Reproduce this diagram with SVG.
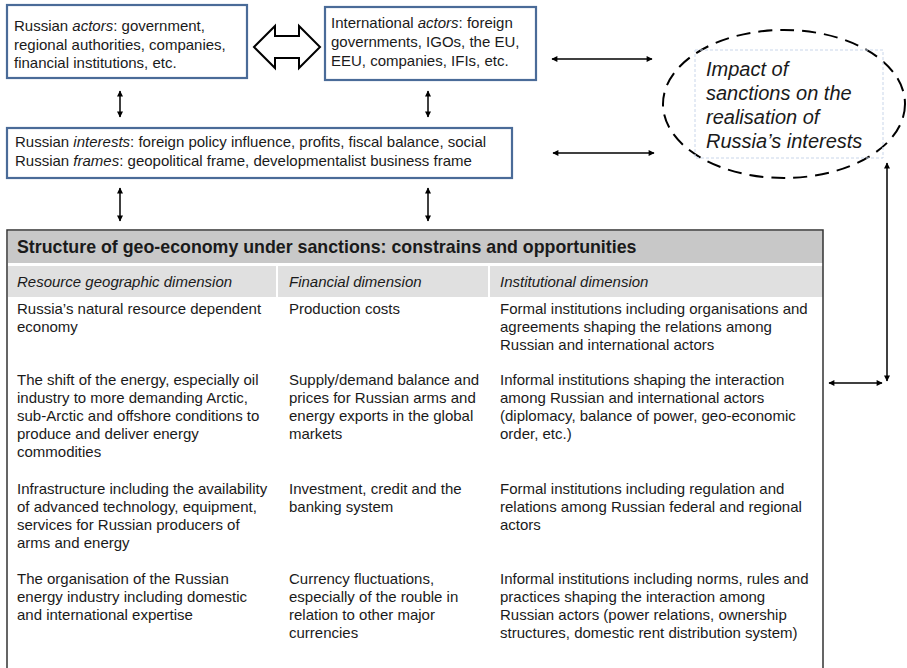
<svg xmlns="http://www.w3.org/2000/svg" width="907" height="668" viewBox="0 0 907 668">
<style>
  text { font-family: "Liberation Sans", Arial, sans-serif; fill: #1a1a1a; }
  .box { fill: #fff; stroke: #4a6b98; stroke-width: 2.2; }
  .t15 { font-size: 15px; }
  .conn { stroke: #000; stroke-width: 1.5; fill: none; marker-start: url(#ah); marker-end: url(#ah); }
</style>
<defs>
  <marker id="ah" viewBox="0 0 10 10" refX="9" refY="5" markerWidth="7" markerHeight="6" markerUnits="userSpaceOnUse" orient="auto-start-reverse">
    <path d="M0,0 L10,5 L0,10 Z" fill="#000"/>
  </marker>
</defs>
<rect width="907" height="668" fill="#fff"/>

<g id="russian-actors">
  <rect class="box" x="7" y="5" width="240" height="73"/>
  <text class="t15" x="14" y="31">Russian <tspan font-style="italic">actors</tspan>: government,</text>
  <text class="t15" x="14" y="50">regional authorities, companies,</text>
  <text class="t15" x="14" y="68">financial institutions, etc.</text>
</g>

<g id="international-actors">
  <rect class="box" x="325" y="7" width="211" height="73"/>
  <text class="t15" x="331" y="28">International <tspan font-style="italic">actors</tspan>: foreign</text>
  <text class="t15" x="331" y="47">governments, IGOs, the EU,</text>
  <text class="t15" x="331" y="66">EEU, companies, IFIs, etc.</text>
</g>

<g id="interests">
  <rect class="box" x="7" y="128" width="505" height="50"/>
  <text class="t15" x="15" y="147">Russian <tspan font-style="italic">interests</tspan>: foreign policy influence, profits, fiscal balance, social</text>
  <text class="t15" x="15" y="166">Russian <tspan font-style="italic">frames</tspan>: geopolitical frame, developmentalist business frame</text>
</g>

<g id="impact">
  <ellipse cx="784" cy="104" rx="121" ry="74" fill="none" stroke="#000" stroke-width="2" stroke-dasharray="14,8"/>
  <rect x="695" y="50" width="188" height="108" fill="none" stroke="#c9d6ea" stroke-width="1" stroke-dasharray="3,2"/>
  <text x="706" y="76" font-size="20" font-style="italic">Impact of</text>
  <text x="706" y="100" font-size="20" font-style="italic">sanctions on the</text>
  <text x="706" y="124" font-size="20" font-style="italic">realisation of</text>
  <text x="706" y="148" font-size="20" font-style="italic">Russia’s interests</text>
</g>

<g id="structure-table">
  <rect x="8" y="231" width="815" height="32" fill="#c8c8c8"/>
  <rect x="8" y="266" width="815" height="31" fill="#e0e0e0"/>
  <line x1="277" y1="266" x2="277" y2="297" stroke="#fff" stroke-width="2"/>
  <line x1="489" y1="266" x2="489" y2="297" stroke="#fff" stroke-width="2"/>
  <path d="M7,668 V230 H823 V668" fill="none" stroke="#333" stroke-width="1.5"/>
  <text x="17" y="253" font-size="17.8" font-weight="bold">Structure of geo-economy under sanctions: constrains and opportunities</text>
  <g font-size="15" font-style="italic">
    <text x="17" y="287">Resource geographic dimension</text>
    <text x="289" y="287">Financial dimension</text>
    <text x="500" y="287">Institutional dimension</text>
  </g>
  <g class="t15">
    <text x="17" y="314">Russia’s natural resource dependent</text>
    <text x="17" y="332">economy</text>
    <text x="289" y="314">Production costs</text>
    <text x="500" y="314">Formal institutions including organisations and</text>
    <text x="500" y="332">agreements shaping the relations among</text>
    <text x="500" y="350">Russian and international actors</text>

    <text x="17" y="385">The shift of the energy, especially oil</text>
    <text x="17" y="403">industry to more demanding Arctic,</text>
    <text x="17" y="421">sub-Arctic and offshore conditions to</text>
    <text x="17" y="439">produce and deliver energy</text>
    <text x="17" y="457">commodities</text>
    <text x="289" y="385">Supply/demand balance and</text>
    <text x="289" y="403">prices for Russian arms and</text>
    <text x="289" y="421">energy exports in the global</text>
    <text x="289" y="439">markets</text>
    <text x="500" y="385">Informal institutions shaping the interaction</text>
    <text x="500" y="403">among Russian and international actors</text>
    <text x="500" y="421">(diplomacy, balance of power, geo-economic</text>
    <text x="500" y="439">order, etc.)</text>

    <text x="17" y="494">Infrastructure including the availability</text>
    <text x="17" y="512">of advanced technology, equipment,</text>
    <text x="17" y="530">services for Russian producers of</text>
    <text x="17" y="548">arms and energy</text>
    <text x="289" y="494">Investment, credit and the</text>
    <text x="289" y="512">banking system</text>
    <text x="500" y="494">Formal institutions including regulation and</text>
    <text x="500" y="512">relations among Russian federal and regional</text>
    <text x="500" y="530">actors</text>

    <text x="17" y="584">The organisation of the Russian</text>
    <text x="17" y="602">energy industry including domestic</text>
    <text x="17" y="620">and international expertise</text>
    <text x="289" y="584">Currency fluctuations,</text>
    <text x="289" y="602">especially of the rouble in</text>
    <text x="289" y="620">relation to other major</text>
    <text x="289" y="638">currencies</text>
    <text x="500" y="584">Informal institutions including norms, rules and</text>
    <text x="500" y="602">practices shaping the interaction among</text>
    <text x="500" y="620">Russian actors (power relations,  ownership</text>
    <text x="500" y="638">structures, domestic rent distribution system)</text>
  </g>
</g>

<g id="connectors">
  <path d="M254,47 L275,26 L275,36 L299,36 L299,26 L320,47 L299,68 L299,58 L275,58 L275,68 Z" fill="#fff" stroke="#000" stroke-width="2" stroke-linejoin="miter"/>
  <line class="conn" x1="552" y1="59" x2="652" y2="59"/>
  <line class="conn" x1="553" y1="153" x2="654" y2="153"/>
  <line class="conn" x1="120" y1="91" x2="120" y2="117"/>
  <line class="conn" x1="428" y1="91" x2="428" y2="117"/>
  <line class="conn" x1="120" y1="188" x2="120" y2="221"/>
  <line class="conn" x1="428" y1="188" x2="428" y2="221"/>
  <line class="conn" x1="887" y1="163" x2="887" y2="381"/>
  <line class="conn" x1="829" y1="383" x2="882" y2="383"/>
</g>
</svg>
